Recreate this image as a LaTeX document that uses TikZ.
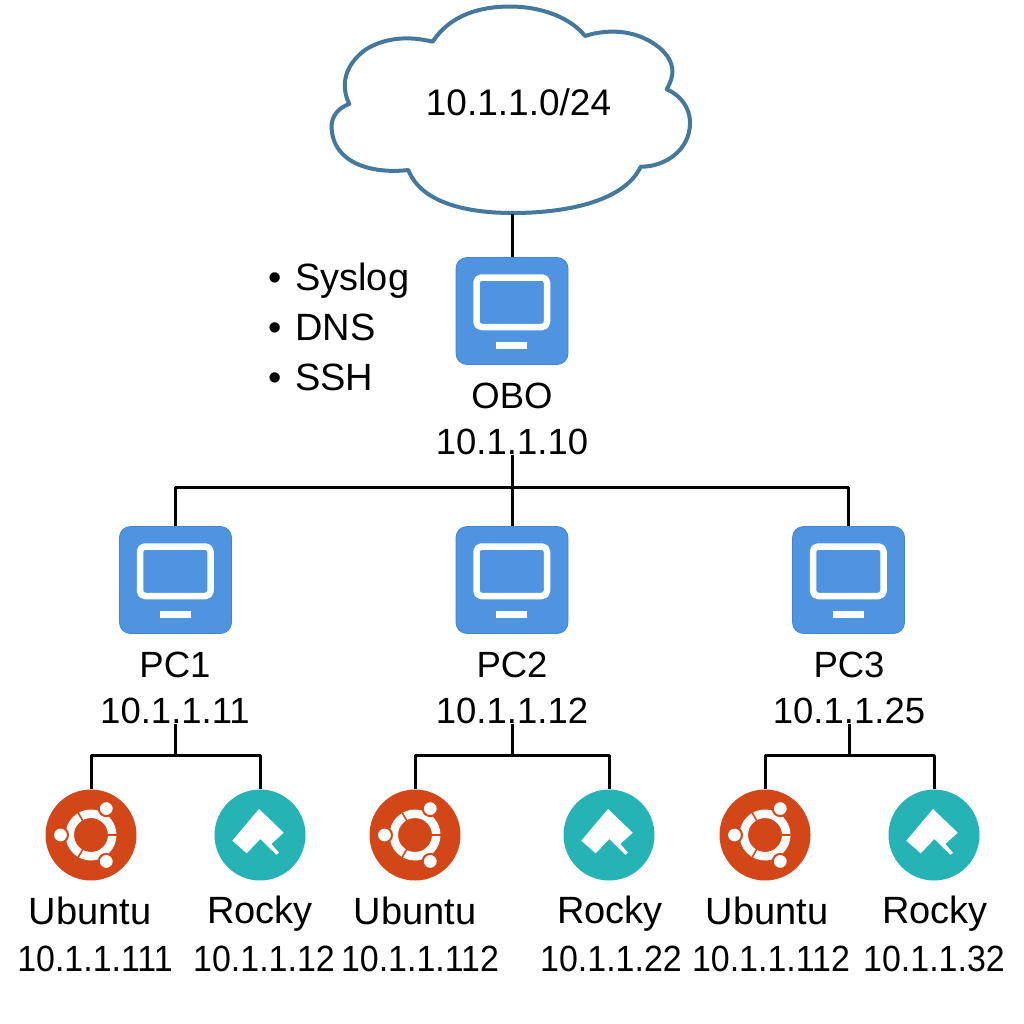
\documentclass[tikz,border=0pt]{standalone}
\usepackage{fontspec}
\setmainfont{Liberation Sans}
\definecolor{cloudline}{HTML}{44789C}
\definecolor{pcblue}{HTML}{4F94E1}
\definecolor{ubuntured}{HTML}{D34617}
\definecolor{rockyteal}{HTML}{25B3B6}
\tikzset{
  lbl/.style={inner sep=0pt,font=\fontsize{36.5}{46.5}\selectfont,align=center},
  biglbl/.style={lbl,font=\fontsize{38}{46.5}\selectfont},
  netlbl/.style={lbl,font=\fontsize{37}{46.5}\selectfont},
  iplbl/.style={lbl,xscale=.93,transform shape},
  wire/.style={line width=3pt,black},
  pcbox/.style={rectangle,rounded corners=11pt,fill=pcblue,draw=pcblue!90!black,line width=.8pt,
    minimum width=112pt,minimum height=107pt,inner sep=0pt},
  logo/.style={circle,minimum size=91pt,inner sep=0pt},
}
\begin{document}
\begin{tikzpicture}[x=1pt,y=-1pt,line join=round]
  \useasboundingbox (0,0) rectangle (1024,1024);
  % Node: cloud
  \fill[white,draw=cloudline,line width=4pt] (432.7,41.7)
    .. controls (450,15) and (480,6.5) .. (510,6.5)
    .. controls (540,6.5) and (570,17) .. (585,36)
    .. controls (610,28) and (640,30) .. (662,50)
    .. controls (675,63) and (675,75) .. (666.7,89.3)
    .. controls (680,95) and (690,107) .. (690,123)
    .. controls (690,150) and (665,167) .. (640.7,166.7)
    .. controls (625,200) and (570,213) .. (513,213)
    .. controls (460,213) and (420,200) .. (408.3,170)
    .. controls (375,174) and (332,165) .. (331.5,126)
    .. controls (332,116) and (338,108) .. (349.3,104)
    .. controls (340,85) and (345,65) .. (365,50)
    .. controls (385,37) and (410,36) .. (432.7,41.7) -- cycle;
  \node[netlbl,minimum height=224pt] (cloud) at (512,102) {\hspace*{13pt}10.1.1.0/24};
  % Node: services
  \node[biglbl,anchor=west] (svc1) at (295,281) {\llap{\textbullet\hspace{13pt}}Syslog};
  \node[biglbl,anchor=west] (svc2) at (295,327) {\llap{\textbullet\hspace{13pt}}DNS};
  \node[biglbl,anchor=west] (svc3) at (295,377) {\llap{\textbullet\hspace{13pt}}SSH};
  % Node: computers
  \node[pcbox] (obo) at (512,311) {};
  \node[pcbox] (pc1) at (175.5,580) {};
  \node[pcbox] (pc2) at (512,580) {};
  \node[pcbox] (pc3) at (848.5,580) {};
  \foreach \n in {obo,pc1,pc2,pc3} {
    \draw[white,line width=6.5pt,rounded corners=5pt,fill=pcblue]
      ([shift={(-35.5,-33.5)}]\n.center) rectangle ([shift={(35,16)}]\n.center);
    \fill[white] ([shift={(-16,31)}]\n.center) rectangle ([shift={(15,38)}]\n.center);
  }
  \node[lbl] (obolbl) at (512,419) {OBO\\10.1.1.10};
  \node[lbl] (pc1lbl) at (175,688) {PC1\\10.1.1.11};
  \node[lbl] (pc2lbl) at (512,688) {PC2\\10.1.1.12};
  \node[lbl] (pc3lbl) at (849,688) {PC3\\10.1.1.25};
  % Node: guests
  \node[logo,fill=ubuntured] (ubuntu1) at (91,835) {};
  \node[logo,fill=rockyteal] (rocky1) at (260,835) {};
  \node[logo,fill=ubuntured] (ubuntu2) at (415,835) {};
  \node[logo,fill=rockyteal] (rocky2) at (609,835) {};
  \node[logo,fill=ubuntured] (ubuntu3) at (765,835) {};
  \node[logo,fill=rockyteal] (rocky3) at (934,835) {};
  \foreach \n in {ubuntu1,ubuntu2,ubuntu3} {
    \begin{scope}[shift={(\n.center)}]
      \fill[white,even odd rule] (0,0) circle (25.5) circle (17);
      \foreach \a in {0,120,240}
        \draw[ubuntured,line width=1.6pt] (\a:16) -- (\a:26.5);
      \foreach \a in {60,180,300}
        \fill[white,draw=ubuntured,line width=2pt] (\a:30.5) circle (7.5);
    \end{scope}
  }
  \foreach \n in {rocky1,rocky2,rocky3} {
    \fill[white,shift={(\n.center)}] (-1,-26) -- (23.7,-2.3) -- (11.3,9) -- (19,17.7)
      -- (16.3,19.7) -- (.3,4) -- (-13.3,18.3) -- (-27.7,5.7) -- cycle;
  }
  \node[biglbl] (ubuntu1a) at (90,911) {Ubuntu};
  \node[iplbl] (ubuntu1b) at (95,959) {10.1.1.111};
  \node[biglbl] (rocky1a) at (260,914) {Rocky};
  \node[iplbl] (rocky1b) at (264,959) {10.1.1.12};
  \node[biglbl] (ubuntu2a) at (415,911) {Ubuntu};
  \node[iplbl] (ubuntu2b) at (420,959) {10.1.1.112};
  \node[biglbl] (rocky2a) at (610,914) {Rocky};
  \node[iplbl] (rocky2b) at (611,959) {10.1.1.22};
  \node[biglbl] (ubuntu3a) at (767,911) {Ubuntu};
  \node[iplbl] (ubuntu3b) at (771,959) {10.1.1.112};
  \node[biglbl] (rocky3a) at (935,914) {Rocky};
  \node[iplbl] (rocky3b) at (934,959) {10.1.1.32};
  % Edge: cloud -> obo
  \draw[wire] (cloud.south) -- (obo.north);
  % Edge: obo -> pc1, pc2, pc3
  \coordinate (bus) at (512,487);
  \draw[wire] (obolbl.south) -- (bus);
  \draw[wire] (bus) -| (pc1.north);
  \draw[wire] (bus) -- (pc2.north);
  \draw[wire] (bus) -| (pc3.north);
  % Edge: pc1 -> ubuntu1, rocky1
  \coordinate (bus1) at (175,755);
  \draw[wire] (pc1lbl.south) -- (bus1);
  \draw[wire] (bus1) -| (ubuntu1.north);
  \draw[wire] (bus1) -| (rocky1.north);
  % Edge: pc2 -> ubuntu2, rocky2
  \coordinate (bus2) at (512,755);
  \draw[wire] (pc2lbl.south) -- (bus2);
  \draw[wire] (bus2) -| (ubuntu2.north);
  \draw[wire] (bus2) -| (rocky2.north);
  % Edge: pc3 -> ubuntu3, rocky3
  \coordinate (bus3) at (849,755);
  \draw[wire] (pc3lbl.south) -- (bus3);
  \draw[wire] (bus3) -| (ubuntu3.north);
  \draw[wire] (bus3) -| (rocky3.north);
\end{tikzpicture}
\end{document}
